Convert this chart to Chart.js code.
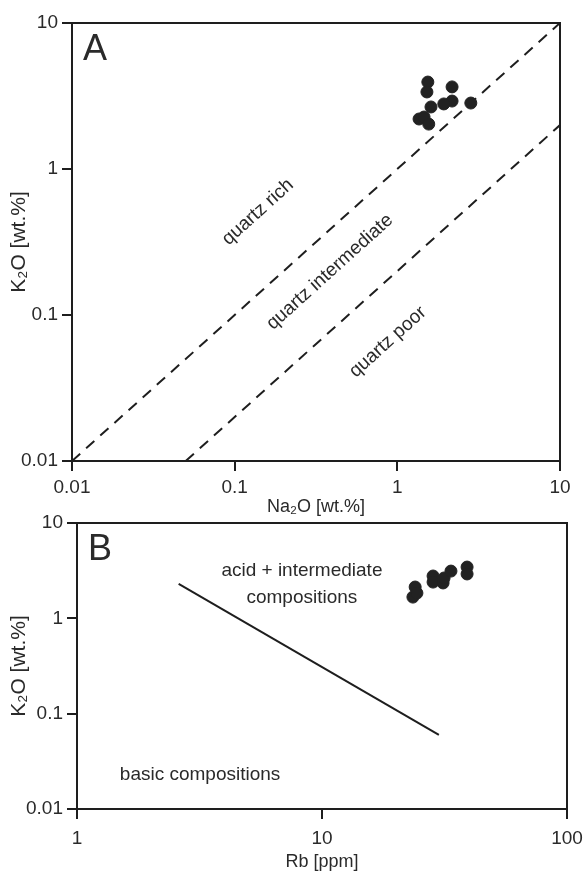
<!DOCTYPE html>
<html>
<head>
<meta charset="utf-8">
<script src="https://cdn.jsdelivr.net/npm/chart.js@4"></script>
<style>
  html, body { margin: 0; padding: 0; background: #fff; }
  #wrap { position: relative; width: 588px; height: 873px; }
  .box { position: absolute; left: 0; width: 588px; }
  #boxA { top: 0; height: 518px; }
  #boxB { top: 508px; height: 365px; }
</style>
</head>
<body>
<div id="wrap">
  <div class="box" id="boxA"><canvas id="chartA"></canvas></div>
  <div class="box" id="boxB"><canvas id="chartB"></canvas></div>
</div>
<script>
// panel A - Na2O vs K2O
const naA = [1.54, 1.52, 2.17, 2.17, 1.93, 1.61, 1.36, 1.46, 1.56, 2.83];
const kA  = [3.94, 3.37, 3.65, 2.92, 2.79, 2.66, 2.20, 2.27, 2.03, 2.83];
const richLineX = [0.01, 10];
const richLineY = [0.01, 10];
const poorLineX = [0.05, 10];
const poorLineY = [0.01, 2];
const ticksA = [0.01, 0.1, 1, 10];

// panel B - Rb vs K2O
const rbB = [24.0, 23.5, 24.4, 28.4, 28.4, 31.2, 31.5, 33.6, 39.1, 39.1];
const kB  = [2.13, 1.67, 1.84, 2.78, 2.40, 2.35, 2.65, 3.13, 3.45, 2.92];
const divideX = [2.6, 30];
const divideY = [2.3, 0.06];
const ticksBx = [1, 10, 100];
const ticksBy = [0.01, 0.1, 1, 10];

const INK = '#1e1e1e';
const TXT = '#2a2a2a';
const NARROW = '"Liberation Sans Narrow", "Liberation Sans", Arial, sans-serif';
const SANS = '"Liberation Sans", Arial, sans-serif';

function pts(xs, ys) { return xs.map((x, i) => ({ x: x, y: ys[i] })); }

// frame + text labels placed in data space
const decor = {
  id: 'decor',
  afterDatasetsDraw(chart, args, opts) {
    const { ctx, chartArea: a, scales } = chart;
    ctx.save();
    ctx.strokeStyle = INK;
    ctx.lineWidth = 2;
    ctx.strokeRect(a.left, a.top, a.right - a.left, a.bottom - a.top);
    ctx.fillStyle = TXT;
    ctx.font = '36px ' + NARROW;
    ctx.textBaseline = 'top';
    ctx.textAlign = 'left';
    ctx.fillText(opts.panel, a.left + 11, a.top + 9);
    (opts.notes || []).forEach(n => {
      const px = scales.x.getPixelForValue(n.x);
      const py = scales.y.getPixelForValue(n.y);
      ctx.save();
      ctx.translate(px, py);
      ctx.rotate((n.angle || 0) * Math.PI / 180);
      ctx.font = '19px ' + SANS;
      ctx.textAlign = 'center';
      ctx.textBaseline = 'middle';
      ctx.fillText(n.text, 0, 0);
      ctx.restore();
    });
    ctx.restore();
  }
};

function logAxis(min, max, tickVals, title, isX, fixedSize, tickPad) {
  return {
    type: 'logarithmic',
    min: min,
    max: max,
    afterBuildTicks: s => { s.ticks = tickVals.map(v => ({ value: v })); },
    afterFit: s => {
      if (isX) { s.height = fixedSize; s.paddingLeft = 0; s.paddingRight = 0; }
      else { s.width = fixedSize; s.paddingTop = 0; s.paddingBottom = 0; }
    },
    ticks: {
      color: TXT,
      font: { family: NARROW, size: 19 },
      padding: tickPad,
      maxRotation: 0,
      autoSkip: false,
      callback: v => String(v)
    },
    grid: {
      display: true,
      drawOnChartArea: false,
      drawTicks: true,
      tickLength: 10,
      color: INK,
      lineWidth: 2
    },
    border: { display: true, color: INK, width: 2 },
    title: {
      display: true,
      text: title,
      color: TXT,
      font: { family: NARROW, size: isX ? 18 : 21 },
      padding: isX ? { top: 4, bottom: 0 } : { top: 7, bottom: 6 }
    }
  };
}

new Chart(document.getElementById('chartA'), {
  type: 'scatter',
  data: {
    datasets: [
      { data: pts(naA, kA), backgroundColor: '#222', borderColor: '#222', pointRadius: 6, pointHoverRadius: 6 },
      { type: 'line', data: pts(richLineX, richLineY), borderColor: INK, borderWidth: 2, borderDash: [11, 8], pointRadius: 0, fill: false },
      { type: 'line', data: pts(poorLineX, poorLineY), borderColor: INK, borderWidth: 2, borderDash: [11, 8], pointRadius: 0, fill: false }
    ]
  },
  options: {
    responsive: true,
    maintainAspectRatio: false,
    animation: false,
    layout: { padding: { top: 23, right: 28, left: 0, bottom: 0 } },
    plugins: {
      legend: { display: false },
      tooltip: { enabled: false },
      decor: {
        panel: 'A',
        notes: [
          { text: 'quartz rich', x: 0.139, y: 0.507, angle: -42 },
          { text: 'quartz intermediate', x: 0.385, y: 0.197, angle: -42 },
          { text: 'quartz poor', x: 0.875, y: 0.0653, angle: -42 }
        ]
      }
    },
    scales: {
      x: logAxis(0.01, 10, ticksA, 'Na\u2082O [wt.%]', true, 57, 5),
      y: logAxis(0.01, 10, ticksA, 'K\u2082O [wt.%]', false, 72, 4)
    }
  },
  plugins: [decor]
});

new Chart(document.getElementById('chartB'), {
  type: 'scatter',
  data: {
    datasets: [
      { data: pts(rbB, kB), backgroundColor: '#222', borderColor: '#222', pointRadius: 6, pointHoverRadius: 6 },
      { type: 'line', data: pts(divideX, divideY), borderColor: INK, borderWidth: 2, pointRadius: 0, fill: false }
    ]
  },
  options: {
    responsive: true,
    maintainAspectRatio: false,
    animation: false,
    layout: { padding: { top: 15, right: 21, left: 0, bottom: 0 } },
    plugins: {
      legend: { display: false },
      tooltip: { enabled: false },
      decor: {
        panel: 'B',
        notes: [
          { text: 'acid + intermediate', x: 8.28, y: 3.14 },
          { text: 'compositions', x: 8.28, y: 1.63 },
          { text: 'basic compositions', x: 3.18, y: 0.0227 }
        ]
      }
    },
    scales: {
      x: logAxis(1, 100, ticksBx, 'Rb [ppm]', true, 64, 8),
      y: logAxis(0.01, 10, ticksBy, 'K\u2082O [wt.%]', false, 77, 4)
    }
  },
  plugins: [decor]
});
</script>
</body>
</html>
